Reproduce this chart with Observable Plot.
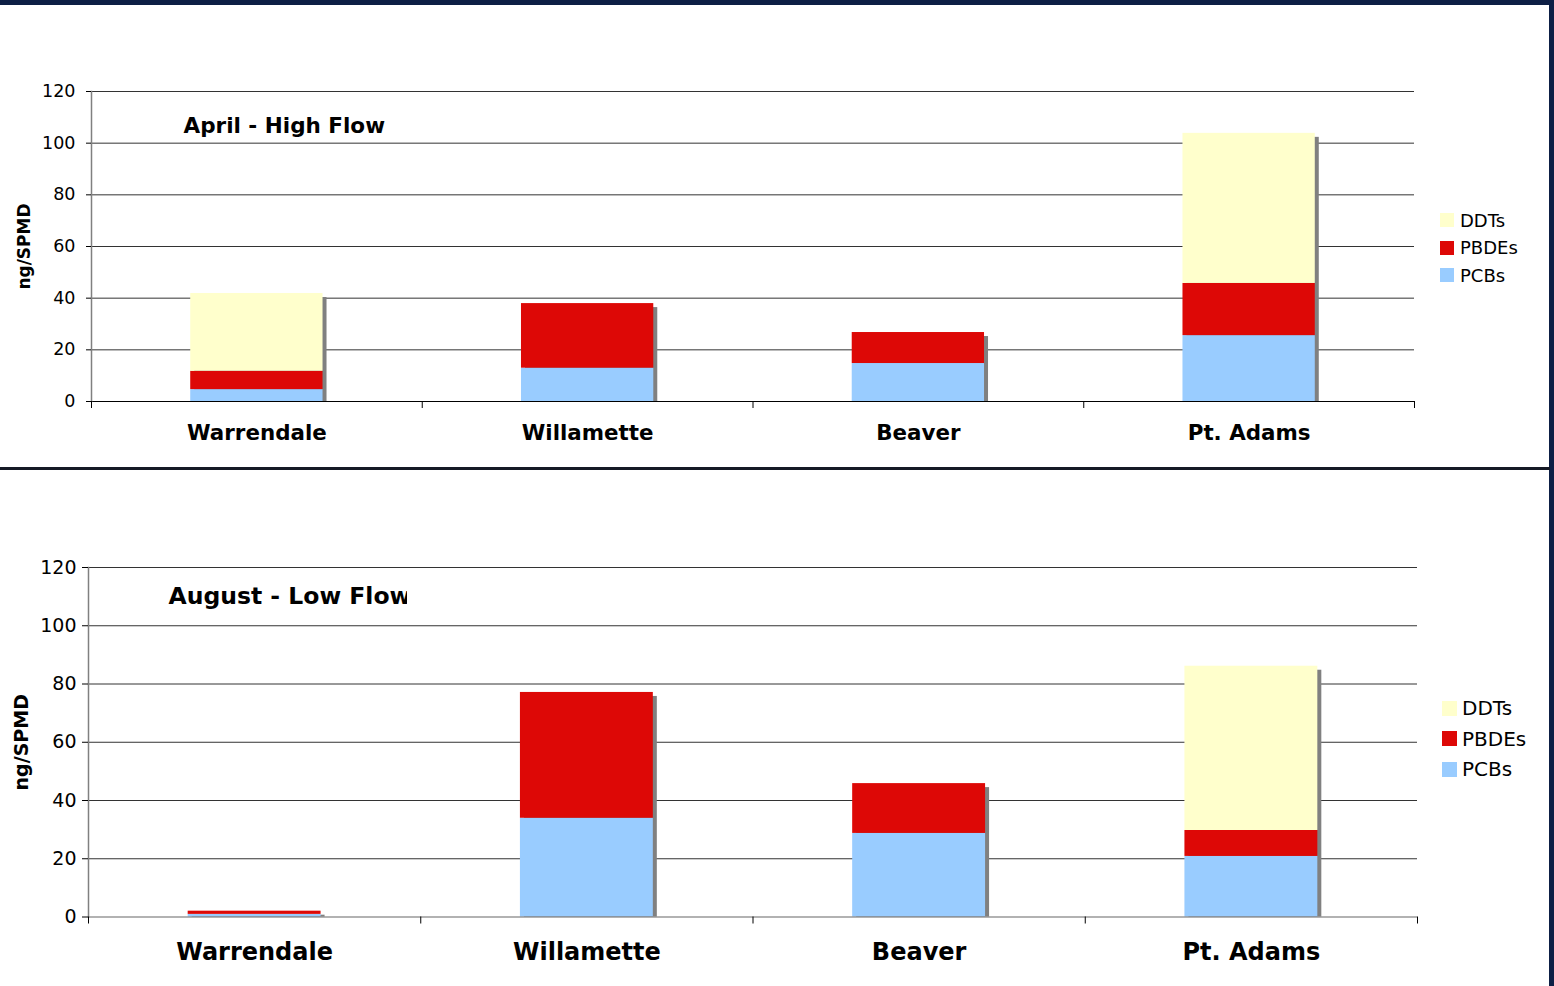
<!DOCTYPE html>
<html><head><meta charset="utf-8">
<script src="https://cdn.jsdelivr.net/npm/d3@7"></script>
<script src="https://cdn.jsdelivr.net/npm/@observablehq/plot@0.6"></script>
<style>
body{margin:0;background:#fff;font-family:"DejaVu Sans",Verdana,sans-serif;}
#page{position:relative;width:1554px;height:986px;overflow:hidden;background:#fff;}
.panel{position:absolute;left:0;}
.lrow{position:absolute;display:flex;align-items:center;white-space:nowrap;color:#000;}
.sw{display:inline-block;}
.bar{position:absolute;}
</style></head><body><div id="page"></div>
<script>
// ---- data ----
const sites = ["Warrendale", "Willamette", "Beaver", "Pt. Adams"];
const compounds = ["PCBs", "PBDEs", "DDTs"];           // stacking order, bottom to top
const compoundColors = ["#99CCFF", "#DD0806", "#FFFFCC"];
const legendOrder = ["DDTs", "PBDEs", "PCBs"];
const yTicks = [0, 20, 40, 60, 80, 100, 120];
const yLabel = "ng/SPMD";
const aprilTitle = "April - High Flow";
const augustTitle = "August - Low Flow";
const aprilPCBs  = [4.6, 12.9, 14.7, 25.5];
const aprilPBDEs = [7.1, 25.0, 12.0, 20.2];
const aprilDDTs  = [30.1, 0, 0, 58.1];
const augustPCBs  = [0.9, 33.9, 28.7, 20.8];
const augustPBDEs = [1.1, 43.2, 17.1, 8.9];
const augustDDTs  = [0, 0, 0, 56.4];

const page = document.getElementById("page");
const FONT = "DejaVu Sans";

function makeChart(c) {
  const series = {PCBs: c.pcbs, PBDEs: c.pbdes, DDTs: c.ddts};
  const data = [];
  sites.forEach((s, i) => compounds.forEach(k => data.push({site: s, compound: k, value: series[k][i]})));
  const totals = sites.map((s, i) => ({site: s, total: c.pcbs[i] + c.pbdes[i] + c.ddts[i]}));
  const pI = 0.6, pO = 0.3;
  const step = (c.width - c.mL - c.mR) / (sites.length - pI + 2 * pO);
  const svg = Plot.plot({
    width: c.width, height: c.height,
    marginLeft: c.mL, marginRight: c.mR, marginTop: c.mT, marginBottom: c.mB,
    style: {fontFamily: FONT, background: "transparent", overflow: "visible", color: "#000"},
    x: {domain: sites, paddingInner: pI, paddingOuter: pO, align: 0.5, round: false},
    y: {domain: [0, 120]},
    color: {domain: compounds, range: compoundColors},
    marks: [
      Plot.ruleY(yTicks.filter(t => t > 0), {stroke: "#333", strokeWidth: 1}),
      Plot.barY(totals, {x: "site", y: "total", fill: "#808080", dx: 4, insetTop: 4}),
      Plot.barY(data, {x: "site", y: "value", fill: "compound", order: compounds}),
      Plot.ruleY([0], {stroke: c.baseColor, strokeWidth: 1.2}),
      Plot.frame({anchor: "left", stroke: "#808080", strokeWidth: 1.5}),
      Plot.axisY({ticks: yTicks, tickSize: c.tickSize, tickPadding: c.tickPad, fontSize: c.tickFont, label: null, color: "#000", tickFormat: d => String(d)}),
      Plot.axisX({tickSize: 0, tickPadding: c.catPad, fontSize: c.catFont, fontWeight: "bold", label: null, color: "#000"}),
      Plot.axisX({tickSize: 7, tickFormat: () => "", dx: -step / 2, label: null, color: "#000"}),
      Plot.axisX({ticks: [sites[sites.length - 1]], tickSize: 7, tickFormat: () => "", dx: step / 2, label: null, color: "#000"}),
      Plot.text([yLabel], {frameAnchor: "left", textAnchor: "middle", rotate: -90, dx: c.yLabDx, fontSize: c.yLabFont, fontWeight: "bold", fill: "#000"}),
      Plot.text([c.title], {frameAnchor: "top-left", textAnchor: "start", lineAnchor: "middle", dx: c.titleDx, dy: c.titleDy, fontSize: c.titleFont, fontWeight: "bold", fill: "#000"})
    ]
  });
  const wrap = document.createElement("div");
  wrap.className = "panel";
  wrap.style.top = c.top + "px";
  wrap.appendChild(svg);
  page.appendChild(wrap);

  if (c.clipX != null) {
    const t = [...svg.querySelectorAll("text")].find(e => e.textContent === c.title);
    if (t) {
      const inv = t.getScreenCTM().inverse();
      const p = new DOMPoint(c.clipX, 0).matrixTransform(inv);
      const ns = "http://www.w3.org/2000/svg";
      const defs = document.createElementNS(ns, "defs");
      const cp = document.createElementNS(ns, "clipPath");
      cp.setAttribute("id", "titleclip");
      const r = document.createElementNS(ns, "rect");
      r.setAttribute("x", p.x - 3000); r.setAttribute("y", -1000);
      r.setAttribute("width", 3000); r.setAttribute("height", 2000);
      cp.appendChild(r); defs.appendChild(cp); svg.insertBefore(defs, svg.firstChild);
      t.setAttribute("clip-path", "url(#titleclip)");
    }
  }

  // legend
  legendOrder.forEach((k, i) => {
    const row = document.createElement("div");
    row.className = "lrow";
    const h = c.legFont * 1.3;
    row.style.left = c.legX + "px";
    row.style.top = (c.legY0 + i * c.legStep - h / 2) + "px";
    row.style.height = h + "px";
    row.style.fontSize = c.legFont + "px";
    row.style.fontFamily = FONT;
    const sw = document.createElement("span");
    sw.className = "sw";
    sw.style.width = c.legSw + "px"; sw.style.height = c.legSw + "px";
    sw.style.background = compoundColors[compounds.indexOf(k)];
    sw.style.marginRight = c.legGap + "px";
    const lab = document.createElement("span");
    lab.textContent = k;
    row.appendChild(sw); row.appendChild(lab);
    page.appendChild(row);
  });
}

makeChart({
  pcbs: aprilPCBs, pbdes: aprilPBDEs, ddts: aprilDDTs, title: aprilTitle,
  top: 0, width: 1430, height: 467, mL: 91, mR: 16, mT: 91, mB: 66,
  tickFont: 17.5, tickSize: 5, tickPad: 11, catFont: 21.4, catPad: 23,
  yLabFont: 17, yLabDx: -67, titleFont: 21.5, titleDx: 92, titleDy: 35,
  baseColor: "#000",
  legX: 1440, legY0: 220.3, legStep: 27.5, legSw: 14, legFont: 18, legGap: 6
});
makeChart({
  pcbs: augustPCBs, pbdes: augustPBDEs, ddts: augustDDTs, title: augustTitle,
  top: 472, width: 1430, height: 514, mL: 88, mR: 13, mT: 95, mB: 69.5,
  tickFont: 19, tickSize: 6, tickPad: 6, catFont: 24, catPad: 26,
  yLabFont: 19, yLabDx: -67, titleFont: 23.5, titleDx: 80, titleDy: 29,
  baseColor: "#666", clipX: 407,
  legX: 1442, legY0: 708, legStep: 30.5, legSw: 15, legFont: 20, legGap: 5
});

// slide frame
[["0px","0px","1554px","5px","#0d1f45"],
 ["1549px","0px","5px","986px","#0d1f45"],
 ["0px","467px","1550px","3px","#161a26"]].forEach(([l,t,w,h,col]) => {
  const d = document.createElement("div");
  d.className = "bar";
  Object.assign(d.style, {left: l, top: t, width: w, height: h, background: col});
  page.appendChild(d);
});
</script>
</body></html>
